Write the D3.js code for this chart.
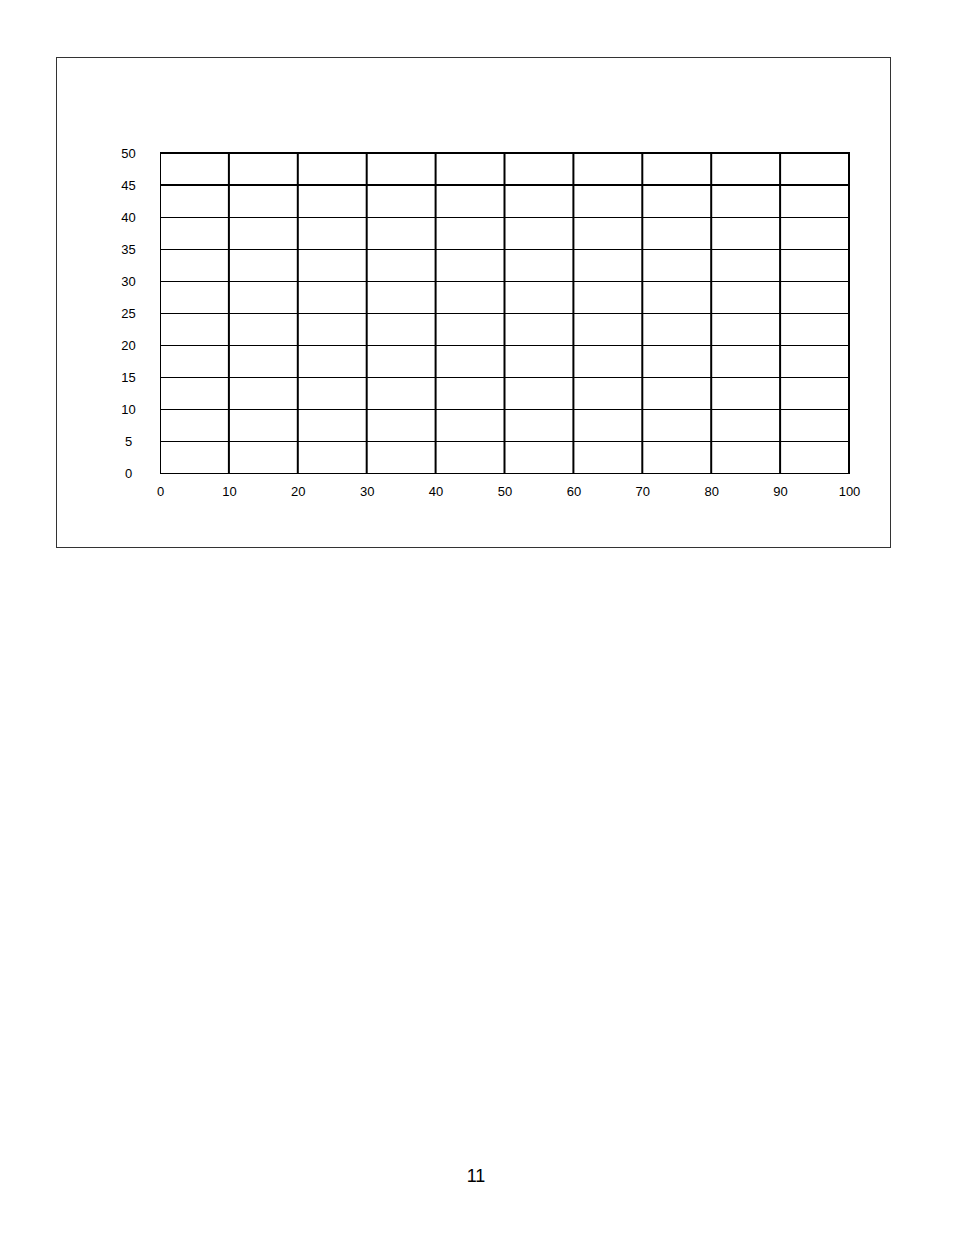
<!DOCTYPE html>
<html>
<head>
<meta charset="utf-8">
<script src="https://cdn.jsdelivr.net/npm/d3@7"></script>
<style>
  body { margin: 0; background: #fff; }
  svg text { font-family: "Liberation Sans", Arial, sans-serif; fill: #000; }
</style>
</head>
<body>
<div id="chart"></div>
<script>
// blank grid, no series plotted
var xTicks = [0, 10, 20, 30, 40, 50, 60, 70, 80, 90, 100];
var yTicks = [0, 5, 10, 15, 20, 25, 30, 35, 40, 45, 50];
var thickRows = [45, 50];
var pageNumber = "11";

var W = 954, H = 1235;
var svg = d3.select("#chart").append("svg")
    .attr("width", W)
    .attr("height", H);

// outer frame
svg.append("rect")
    .attr("x", 56.5).attr("y", 57.5)
    .attr("width", 834).attr("height", 490)
    .attr("fill", "none")
    .attr("stroke", "#333")
    .attr("stroke-width", 1);

var x = d3.scaleLinear().domain([0, 100]).range([160, 849]);
var y = d3.scaleLinear().domain([0, 50]).range([473, 153]);

var grid = svg.append("g");

// horizontal lines
grid.selectAll("line.h").data(yTicks).enter().append("line")
    .attr("class", "h")
    .attr("x1", x(0)).attr("x2", x(100))
    .attr("y1", function(d) { return thickRows.indexOf(d) >= 0 ? y(d) : y(d) + 0.5; })
    .attr("y2", function(d) { return thickRows.indexOf(d) >= 0 ? y(d) : y(d) + 0.5; })
    .attr("stroke", "#000")
    .attr("stroke-width", function(d) { return thickRows.indexOf(d) >= 0 ? 2 : 1; });

// vertical lines
grid.selectAll("line.v").data(xTicks).enter().append("line")
    .attr("class", "v")
    .attr("x1", function(d) { return d === 0 ? x(d) + 0.5 : x(d); })
    .attr("x2", function(d) { return d === 0 ? x(d) + 0.5 : x(d); })
    .attr("y1", y(50) - 1).attr("y2", y(0) + 1)
    .attr("stroke", "#000")
    .attr("stroke-width", function(d) { return d === 0 ? 1 : 2; });

// y axis labels (centred in their column)
var yAxis = d3.axisLeft(y).tickValues(yTicks).tickSize(0).tickFormat(d3.format("d"));
var gy = svg.append("g").attr("transform", "translate(128.5,0)").call(yAxis);
gy.select(".domain").remove();
gy.selectAll("text")
    .attr("x", 0)
    .attr("dy", "0.36em")
    .attr("text-anchor", "middle")
    .style("font-size", "13px")
    .style("font-family", "'Liberation Sans', Arial, sans-serif");

// x axis labels
var xAxis = d3.axisBottom(x).tickValues(xTicks).tickSize(0).tickFormat(d3.format("d"));
var gx = svg.append("g").attr("transform", "translate(0,473)").call(xAxis);
gx.select(".domain").remove();
gx.selectAll("text")
    .attr("y", 23)
    .attr("dy", 0)
    .style("font-size", "13px")
    .style("font-family", "'Liberation Sans', Arial, sans-serif");

// page number
svg.append("text")
    .attr("x", 476).attr("y", 1182)
    .attr("text-anchor", "middle")
    .style("font-size", "18px")
    .text(pageNumber);
</script>
</body>
</html>
